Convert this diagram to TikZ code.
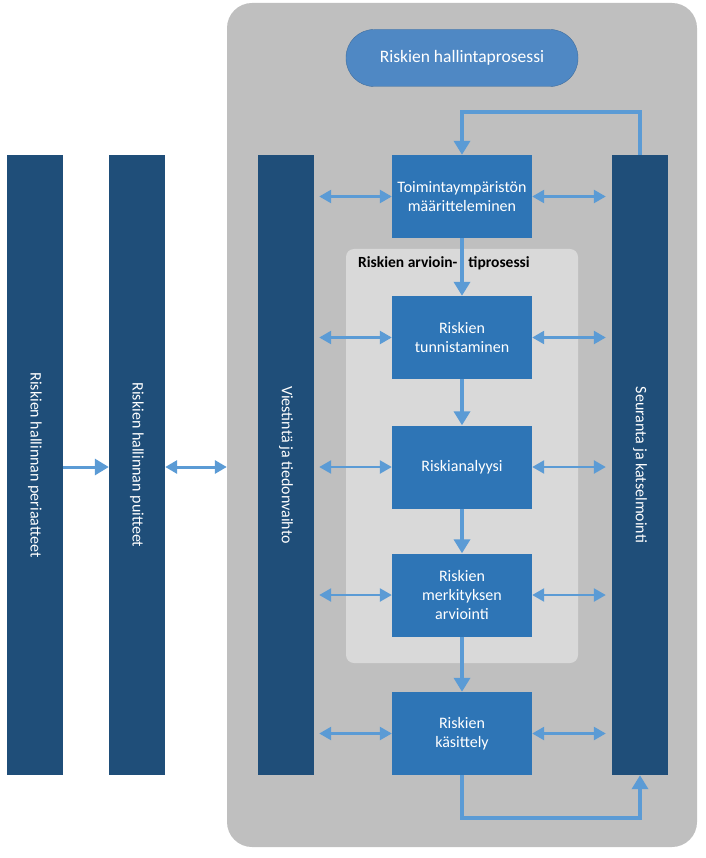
\documentclass[tikz,border=0pt]{standalone}
\usepackage{fontspec}
\setmainfont{Carlito}
\usetikzlibrary{arrows.meta,positioning}
\definecolor{outergray}{HTML}{BFBFBF}
\definecolor{innergray}{HTML}{D9D9D9}
\definecolor{pillar}{HTML}{1F4E79}
\definecolor{stepblue}{HTML}{2E75B6}
\definecolor{pillblue}{HTML}{4F88C4}
\definecolor{arrowblue}{HTML}{5B9BD5}

\begin{document}
\begin{tikzpicture}[x=1pt, y=-1pt, font=\fontsize{16}{19}\selectfont,
	pillarbox/.style={fill=pillar, text=white, rotate=-90, minimum width=620pt, minimum height=56pt, inner sep=0pt},
	stepbox/.style={fill=stepblue, text=white, minimum width=140pt, minimum height=83pt, text width=136pt, align=center, inner sep=0pt},
	flow/.style={draw=arrowblue, line width=3.5pt, -{Triangle[length=14pt, width=16pt]}},
	dbl/.style={draw=arrowblue, line width=2.5pt, {Triangle[length=12pt, width=13pt]}-{Triangle[length=12pt, width=13pt]}}]

    \useasboundingbox (0,0) rectangle (705,858);

    \node[fill=outergray, rounded corners=25pt, minimum width=470pt, minimum height=844pt] (prosessi) at (462,425) {};
    \node[fill=pillblue, draw=pillblue!80!black, rounded corners=28pt, minimum width=232pt, minimum height=57pt, text=white, font=\fontsize{17.5}{20}\selectfont] (otsikko) at (462,58) {Riskien hallintaprosessi};
    \node[fill=innergray, rounded corners=8pt, minimum width=232pt, minimum height=414pt] (arviointi) at (462,456) {};
    \node[anchor=west, font=\bfseries\fontsize{15.5}{18}\selectfont, inner sep=0pt] (arviolabel) at (358,263) {Riskien arvioin-\hspace{11pt}tiprosessi};

    \node[pillarbox] (periaatteet) at (35,465) {Riskien hallinnan periaatteet};
    \node[pillarbox] (puitteet) at (137,465) {Riskien hallinnan puitteet};
    \node[pillarbox] (viestinta) at (286,465) {Viestintä ja tiedonvaihto};
    \node[pillarbox] (seuranta) at (640,465) {Seuranta ja katselmointi};

    \node[stepbox] (toiminta) at (462,196.5) {Toimintaympäristön\\ määritteleminen};
    \node[stepbox] (tunnistus) at (462,337.5) {Riskien\\ tunnistaminen};
    \node[stepbox] (analyysi) at (462,467) {Riskianalyysi};
    \node[stepbox] (merkitys) at (462,595) {Riskien\\ merkityksen\\ arviointi};
    \node[stepbox] (kasittely) at (462,733.5) {Riskien\\ käsittely};

    \draw[flow] (toiminta) -- (tunnistus);
    \draw[flow] (tunnistus) -- (analyysi);
    \draw[flow] (analyysi) -- (merkitys);
    \draw[flow] (merkitys) -- (kasittely);

    % rotated pillars: north = right side, south = left side, west = top, east = bottom
    \foreach \s in {toiminta, tunnistus, analyysi, merkitys, kasittely} {
        \draw[dbl, shorten >=5pt] (\s.west) -- (\s.west -| viestinta.north);
        \draw[dbl, shorten >=6pt] (\s.east) -- (\s.east -| seuranta.south);
    }

    \draw[flow] (seuranta.west) -- ++(0,-43) -| (toiminta.north);
    \draw[flow] (kasittely.south) -- ++(0,43) -| (seuranta.east);

    \draw[flow, line width=3pt] (periaatteet.north |- analyysi) -- (puitteet.south |- analyysi);
    \draw[dbl, line width=3pt] (puitteet.north |- analyysi) -- (prosessi.west |- analyysi);
\end{tikzpicture}
\end{document}
